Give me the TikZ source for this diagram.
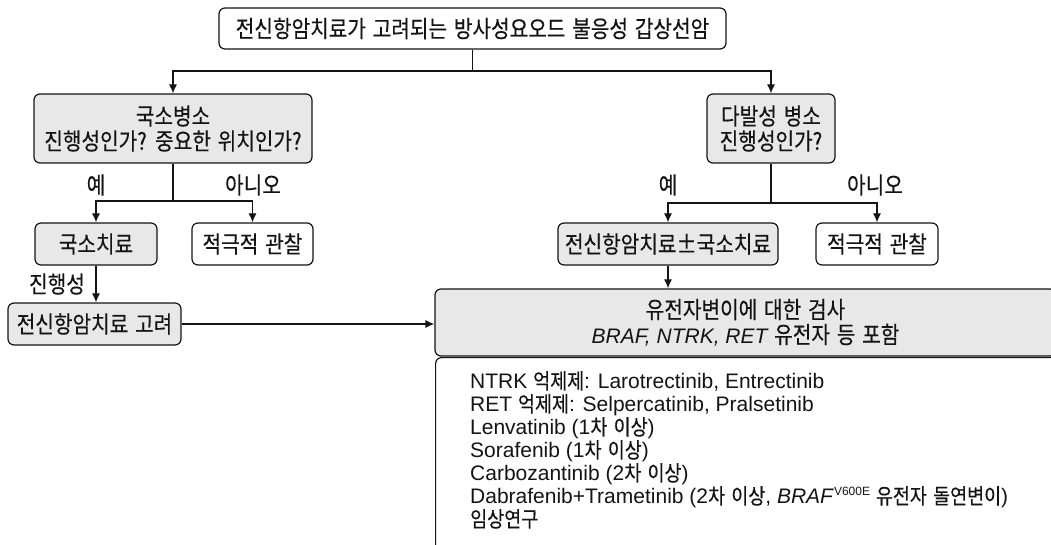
\documentclass[tikz,border=0pt]{standalone}
\usepackage{fontspec}
\setmainfont{Liberation Sans}
\newfontfamily\latinfont{Liberation Sans}
\newfontfamily\krfont[FakeStretch=0.86, FakeBold=0.3, WordSpace=1.5]{Noto Sans CJK KR}
\usetikzlibrary{arrows.meta}
\definecolor{boxgray}{RGB}{232,232,232}
\definecolor{ink}{RGB}{20,20,20}
\newcommand\K[1]{{\krfont\fontsize{21.5}{23}\selectfont #1}}
\newcommand\supsmall[1]{\raisebox{8pt}{\fontsize{12}{12}\selectfont #1}}
\tikzset{
  basebox/.style={draw=ink, line width=1.2pt, rounded corners=6pt, align=center, inner sep=2pt,
    font=\krfont\fontsize{23.5}{25}\selectfont, text=ink},
  whitebox/.style={basebox, fill=white},
  graybox/.style={basebox, fill=boxgray},
  conn/.style={draw=ink, line width=1.2pt},
  arr/.style={conn, -{Latex[length=9pt,width=8pt]}},
  lbl/.style={font=\krfont\fontsize{23.5}{25}\selectfont, inner sep=0pt, text=ink},
}
\begin{document}
\begin{tikzpicture}[x=1pt,y=-1pt]
\useasboundingbox (0,0) rectangle (1051,545);
\clip (0,0) rectangle (1051,545);

% nodes
\node[whitebox, minimum width=507pt, minimum height=41pt] (top) at (472.5,28.5)
  {전신항암치료가 고려되는 방사성요오드 불응성 갑상선암};
\node[graybox, minimum width=278pt, minimum height=69pt] (decL) at (173,128.5)
  {국소병소\\진행성인가? 중요한 위치인가?};
\node[graybox, minimum width=128pt, minimum height=69pt] (decR) at (771,128.5)
  {다발성 병소\\진행성인가?};
\node[graybox, minimum width=122pt, minimum height=42pt] (local) at (96,244) {국소치료};
\node[whitebox, minimum width=121pt, minimum height=42pt] (watchL) at (252.5,244) {적극적 관찰};
\node[graybox, minimum width=173pt, minimum height=42pt] (consider) at (94.5,324) {전신항암치료 고려};
\node[graybox, minimum width=220pt, minimum height=42pt] (pm) at (668,244) {전신항암치료±국소치료};
\node[whitebox, minimum width=122pt, minimum height=42pt] (watchR) at (877,244) {적극적 관찰};
\node[graybox, minimum width=621pt, minimum height=67pt] (test) at (745.5,322.5)
  {유전자변이에 대한 검사\\{\latinfont\itshape\fontsize{21}{25}\selectfont BRAF, NTRK, RET} 유전자 등 포함};
\node[whitebox, anchor=north west, minimum width=640pt, minimum height=220pt] (listbox) at (435,357) {};
\node[anchor=north west, inner sep=0pt, align=left, text=ink,
      font=\latinfont\fontsize{21}{23}\selectfont] (list) at (470,371)
  {NTRK \K{억제제}: Larotrectinib, Entrectinib\\
   RET \K{억제제}: Selpercatinib, Pralsetinib\\
   Lenvatinib (1\K{차 이상})\\
   Sorafenib (1\K{차 이상})\\
   Carbozantinib (2\K{차 이상})\\
   Dabrafenib+Trametinib (2\K{차 이상}, \textit{BRAF}\supsmall{V600E} \K{유전자 돌연변이})\\
   \K{임상연구}};

% labels
\node[lbl] (yesL) at (96,185) {예};
\node[lbl] (noL) at (253,185) {아니오};
\node[lbl] (yesR) at (668,185) {예};
\node[lbl] (noR) at (875,185) {아니오};
\node[lbl] (prog) at (57,284) {진행성};

% junctions
\coordinate (j0) at (472.5,71);
\coordinate (jL) at (173,201);
\coordinate (jR) at (771,203);

% connectors
\draw[conn] (top.south) -- (j0);
\draw[arr] (j0) -| (decL.north);
\draw[arr] (j0) -| (decR.north);
\draw[conn] (decL.south) -- (jL);
\draw[arr] (jL) -| (local.north);
\draw[arr] (jL) -| (watchL.north);
\draw[conn] (decR.south) -- (jR);
\draw[arr] (jR) -| (pm.north);
\draw[arr] (jR) -| (watchR.north);
\draw[arr] (local.south) -- (local.south |- consider.north);
\draw[arr] (consider.east) -- (test.west |- consider.east);
\draw[arr] (pm.south) -- (pm.south |- test.north);
\end{tikzpicture}
\end{document}
